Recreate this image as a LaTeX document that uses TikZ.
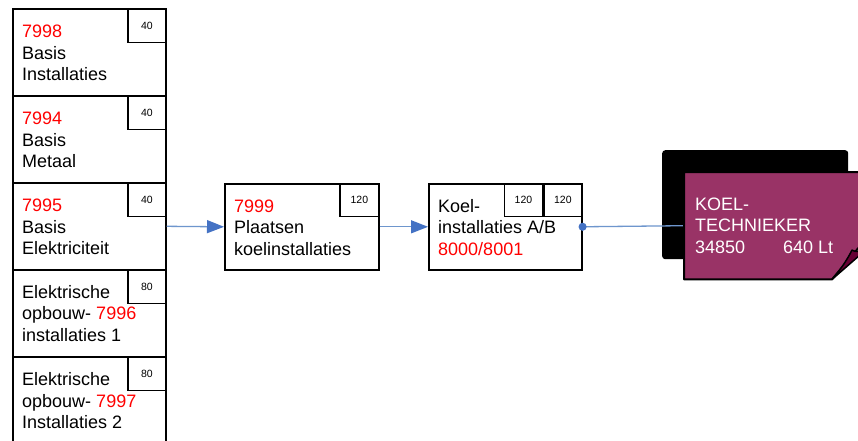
\documentclass[tikz,border=0pt]{standalone}
\usepackage{fontspec}
\setmainfont{Liberation Sans}
\usetikzlibrary{arrows.meta}
\definecolor{linkline}{RGB}{110,150,205}
\definecolor{linktip}{RGB}{68,114,196}
\definecolor{koelmag}{RGB}{153,51,102}
\definecolor{folddark}{RGB}{102,0,51}
\tikzset{
  procbox/.style={draw=black, line width=1.6pt, anchor=north west, inner sep=0pt, minimum width=153, minimum height=87},
  tagbox/.style={draw=black, line width=1.4pt, anchor=north east, inner sep=0pt, minimum width=38, minimum height=34, font=\fontsize{10.5}{12}\selectfont},
  txtblk/.style={anchor=north west, inner sep=0pt, align=left, font=\fontsize{18}{21.5}\selectfont},
  link/.style={draw=linkline, line width=1.3pt},
}
\newcommand{\rednum}[1]{\textcolor{red}{#1}}
\newcommand{\firstline}{\rule{0pt}{13pt}}
\begin{document}
\begin{tikzpicture}[x=1pt,y=-1pt]
\useasboundingbox (0,0) rectangle (858,440);
\clip (0,0) rectangle (858,440);
\fill[white] (0,0) rectangle (858,440);

% left column
\node[procbox] (b7998) at (12,8) {};
\node[tagbox] (t7998) at (b7998.north east) {40};
\node[txtblk] (x7998) at ([xshift=10pt,yshift=-16.5pt]b7998.north west) {\firstline\rednum{7998}\\Basis\\Installaties};

\node[procbox] (b7994) at (12,95) {};
\node[tagbox] (t7994) at (b7994.north east) {40};
\node[txtblk] (x7994) at ([xshift=10pt,yshift=-16.5pt]b7994.north west) {\firstline\rednum{7994}\\Basis\\Metaal};

\node[procbox] (b7995) at (12,182) {};
\node[tagbox] (t7995) at (b7995.north east) {40};
\node[txtblk] (x7995) at ([xshift=10pt,yshift=-16.5pt]b7995.north west) {\firstline\rednum{7995}\\Basis\\Elektriciteit};

\node[procbox] (b7996) at (12,269) {};
\node[tagbox] (t7996) at (b7996.north east) {80};
\node[txtblk] (x7996) at ([xshift=10pt,yshift=-16pt]b7996.north west) {\firstline Elektrische\\opbouw- \rednum{7996}\\installaties 1};

\node[procbox] (b7997) at (12,356) {};
\node[tagbox] (t7997) at (b7997.north east) {80};
\node[txtblk] (x7997) at ([xshift=10pt,yshift=-16.5pt]b7997.north west) {\firstline Elektrische\\opbouw- \rednum{7997}\\Installaties 2};

% middle
\node[procbox, minimum width=154, minimum height=86] (b7999) at (224,183) {};
\node[tagbox, minimum width=39, minimum height=33] (t7999) at (b7999.north east) {120};
\node[txtblk] (x7999) at ([xshift=10pt,yshift=-16pt]b7999.north west) {\firstline\rednum{7999}\\Plaatsen\\koelinstallaties};

\node[procbox, minimum width=153, minimum height=86] (bkoel) at (428,183) {};
\node[tagbox, minimum width=38, minimum height=33] (tkoelb) at (bkoel.north east) {120};
\node[tagbox, minimum width=38, minimum height=33] (tkoela) at (tkoelb.north west) {120};
\node[txtblk] (xkoel) at ([xshift=10pt,yshift=-16pt]bkoel.north west) {\firstline Koel-\\installaties A/B\\\rednum{8000/8001}};

% koeltechnieker
\node[fill=black, rounded corners=3pt, anchor=north west, inner sep=0pt, minimum width=186, minimum height=109] (shadow) at (662,150) {};
\node[anchor=north west, inner sep=0pt, minimum width=200, minimum height=107] (tech) at (684,172) {};

% connectors
\draw[link, -{Triangle[length=17pt,width=13pt,color=linktip]}] (b7995.east) -- (b7999.west);
\draw[link, -{Triangle[length=17pt,width=13pt,color=linktip]}] (b7999.east) -- (bkoel.west);
\draw[link, {Circle[length=8pt,color=linktip]}-] ([xshift=-4pt]bkoel.east) -- (tech.west);

\path[fill=koelmag, draw=black, line width=2pt, line join=round]
  (tech.north west) -- (tech.north east) -- ([yshift=-45pt]tech.north east)
  -- ([xshift=148pt]tech.south west) -- (tech.south west) -- cycle;
\path[fill=folddark, draw=black, line width=1.5pt, line join=round]
  ([xshift=148pt]tech.south west) .. controls (842,268) and (848,258) .. (852,250)
  .. controls (858,254) and (866,250) .. (884,234) -- cycle;

\node[txtblk, text=white] (xtech) at ([xshift=11pt,yshift=-25pt]tech.north west) {\firstline KOEL-\\TECHNIEKER\\\makebox[88pt][l]{34850}640 Lt};
\end{tikzpicture}
\end{document}
